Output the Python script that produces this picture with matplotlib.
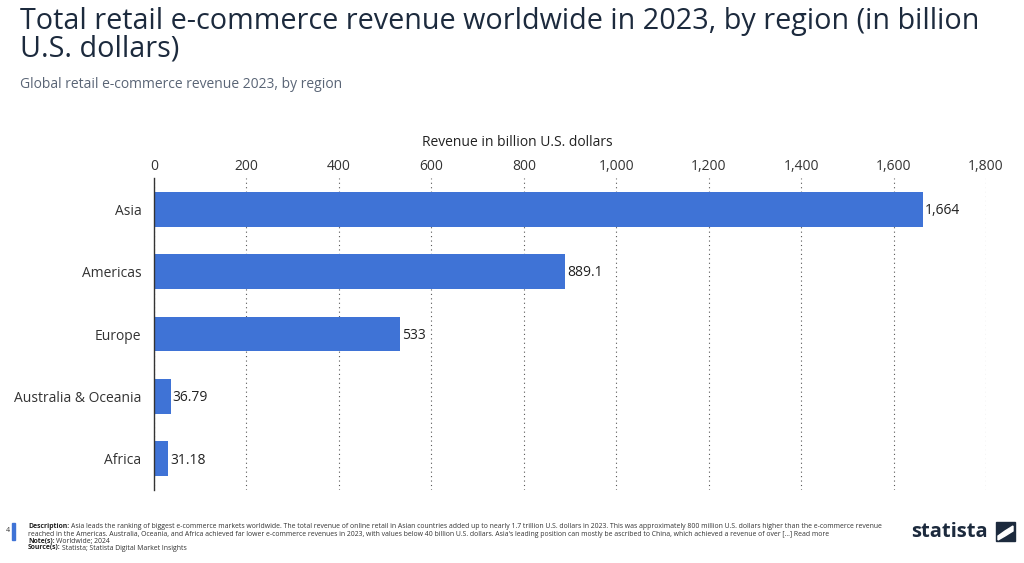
import matplotlib.pyplot as plt
from matplotlib.patches import Rectangle, Polygon

plt.rcParams['font.family'] = ['Open Sans', 'DejaVu Sans']

# data
regions = ['Asia', 'Americas', 'Europe', 'Australia & Oceania', 'Africa']
revenue = [1664, 889.1, 533, 36.79, 31.18]
value_labels = ['1,664', '889.1', '533', '36.79', '31.18']
xticks = [0, 200, 400, 600, 800, 1000, 1200, 1400, 1600, 1800]

navy = '#1c2a3d'
bar_color = '#3f73d6'

fig = plt.figure(figsize=(10.24, 5.63), dpi=100)
ax = fig.add_axes([154/1024, 1 - 490/563, 832/1024, 312/563])

ypos = list(range(len(regions)))
ax.barh(ypos, revenue, height=0.56, color=bar_color, zorder=3)
for y, v, lab in zip(ypos, revenue, value_labels):
    ax.text(v + 4, y + 0.02, lab, va='center', ha='left', fontsize=10, color='#222222')

ax.set_xlim(0, 1800)
ax.set_ylim(4.5, -0.5)
ax.set_yticks(ypos)
ax.set_yticklabels(regions, fontsize=10, color='#333333')
ax.set_xticks(xticks)
ax.set_xticklabels([f'{t:,}' for t in xticks], fontsize=10, color='#333333')
ax.xaxis.tick_top()
ax.tick_params(axis='y', length=0, pad=9)
ax.tick_params(axis='x', length=0, pad=3)
ax.grid(axis='x', linestyle=(0, (1, 3)), color='#555555', linewidth=0.8, zorder=0)
for s in ['top', 'right', 'bottom']:
    ax.spines[s].set_visible(False)
ax.spines['left'].set_color('#333333')
ax.spines['left'].set_linewidth(1)
ax.spines['left'].set_zorder(4)

# titles
fig.text(20/1024, 1 - 7/563, 'Total retail e-commerce revenue worldwide in 2023, by region (in billion\nU.S. dollars)',
         fontsize=20.7, color=navy, va='top', ha='left', linespacing=0.93)
fig.text(20/1024, 1 - 85/563, 'Global retail e-commerce revenue 2023, by region',
         fontsize=10, color='#5a6576', va='center', ha='left')
fig.text(517/1024, 1 - 142/563, 'Revenue in billion U.S. dollars',
         fontsize=10, color='#222222', va='center', ha='center')

# footer
fig.patches.append(Rectangle((12/1024, 1 - 540/563), 2.5/1024, 17/563,
                             transform=fig.transFigure, color='#3f73d6'))
fig.text(6/1024, 1 - 530/563, '4', fontsize=5, color='#333333', va='center')
foot = [
    ('Description:', 'Asia leads the ranking of biggest e-commerce markets worldwide. The total revenue of online retail in Asian countries added up to nearly 1.7 trillion U.S. dollars in 2023. This was approximately 800 million U.S. dollars higher than the e-commerce revenue', 527),
    ('', 'reached in the Americas. Australia, Oceania, and Africa achieved far lower e-commerce revenues in 2023, with values below 40 billion U.S. dollars. Asia\'s leading position can mostly be ascribed to China, which achieved a revenue of over [...] Read more', 534),
    ('Note(s):', 'Worldwide; 2024', 541),
    ('Source(s):', 'Statista; Statista Digital Market Insights', 548),
]
for head, body, y in foot:
    if head:
        t = fig.text(28/1024, 1 - y/563, head, fontsize=4.92, fontweight='bold', color='#222222', va='center')
        fig.canvas.draw()
        bb = t.get_window_extent()
        x2 = bb.x1 / fig.bbox.width + 1.5/1024
    else:
        x2 = 28/1024
    fig.text(x2, 1 - y/563, body, fontsize=4.92, color='#333333', va='center')

fig.text(911/1024, 1 - 532/563, 'statista', fontsize=14.5, fontweight='bold', color=navy, va='center')
fig.patches.append(Rectangle((996/1024, 1 - 541/563), 19/1024, 19/563,
                             transform=fig.transFigure, color=navy))
fig.patches.append(Polygon([(998/1024, 1 - 536/563), (1005/1024, 1 - 531/563),
                            (1013/1024, 1 - 526/563), (1013/1024, 1 - 531/563),
                            (1005/1024, 1 - 536/563), (998/1024, 1 - 540/563)],
                           closed=True, transform=fig.transFigure, color='white'))

fig.savefig('out.png', dpi=100)
